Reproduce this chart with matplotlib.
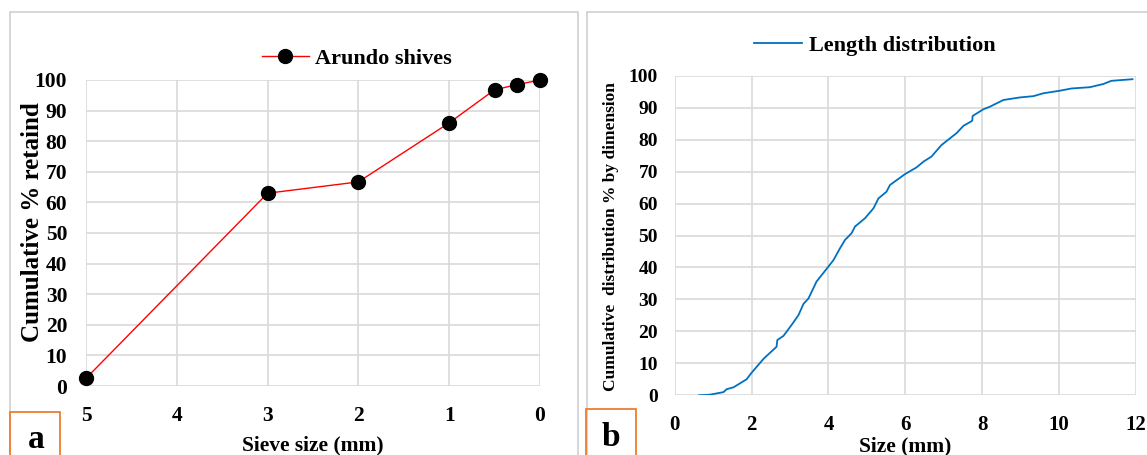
import matplotlib
matplotlib.use("Agg")
import matplotlib.pyplot as plt
from matplotlib.patches import Rectangle

# ---------------- data ----------------
sieve_size = [5, 3, 2, 1, 0.5, 0.25, 0]
cum_retained = [2.5, 63.0, 66.7, 86.0, 96.8, 98.5, 100.0]

length_mm = [0.63, 0.92, 1.27, 1.35, 1.53, 1.87, 1.99, 2.31, 2.65, 2.67, 2.83, 3.04,
             3.22, 3.35, 3.48, 3.69, 4.00, 4.13, 4.30, 4.43, 4.60, 4.69, 4.95, 5.17,
             5.30, 5.51, 5.60, 5.99, 6.29, 6.47, 6.68, 6.94, 7.16, 7.33, 7.51, 7.74,
             7.75, 8.03, 8.20, 8.55, 8.98, 9.33, 9.59, 10.02, 10.32, 10.80, 11.15,
             11.36, 11.91]
length_cum = [0.0, 0.2, 1.0, 1.9, 2.5, 5.0, 6.9, 11.4, 15.2, 17.3, 18.6, 22.0,
              25.1, 28.6, 30.3, 35.6, 40.3, 42.3, 46.0, 48.6, 50.7, 52.8, 55.4, 58.5,
              61.6, 63.7, 65.8, 69.2, 71.3, 73.1, 74.7, 78.3, 80.4, 82.0, 84.3, 85.9,
              87.4, 89.5, 90.3, 92.4, 93.2, 93.6, 94.5, 95.3, 96.0, 96.4, 97.4,
              98.4, 98.9]

left_xticks = [5, 4, 3, 2, 1, 0]
right_xticks = [0, 2, 4, 6, 8, 10, 12]
yticks = list(range(0, 101, 10))

# ---------------- figure ----------------
W, H = 1147, 455
fig = plt.figure(figsize=(W / 100, H / 100), dpi=100)
SERIF = "Liberation Serif"
GRID = "#d9d9d9"


def ax_px(l, r, t, b):
    return fig.add_axes([l / W, (H - b) / H, (r - l) / W, (b - t) / H])


def ftext(x, y, s, **kw):
    return fig.text(x / W, (H - y) / H, s, ha="center", va="center",
                    fontfamily=SERIF, fontweight="bold", **kw)


def style(ax, xfs, yfs, xpad, ypad):
    for s in ax.spines.values():
        s.set_visible(False)
    ax.grid(True, color=GRID, linewidth=1.2)
    ax.set_axisbelow(True)
    ax.tick_params(length=0)
    ax.tick_params(axis="x", pad=xpad)
    ax.tick_params(axis="y", pad=ypad)
    for lab in ax.get_xticklabels():
        lab.set_fontfamily(SERIF); lab.set_fontweight("bold"); lab.set_fontsize(xfs)
    for lab in ax.get_yticklabels():
        lab.set_fontfamily(SERIF); lab.set_fontweight("bold"); lab.set_fontsize(yfs)


# panel borders
fig.patches.append(Rectangle((10 / W, -0.1), 568 / W, (H - 12) / H + 0.1,
                             transform=fig.transFigure, fill=False,
                             edgecolor="#d0d0d0", linewidth=1.2))
fig.patches.append(Rectangle((586.5 / W, -0.1), 600 / W, (H - 12) / H + 0.1,
                             transform=fig.transFigure, fill=False,
                             edgecolor="#d0d0d0", linewidth=1.2))

# ---------------- panel a ----------------
ax1 = ax_px(86, 540, 80, 386)
ax1.plot(sieve_size, cum_retained, color="#ff0000", linewidth=1.0,
         marker="o", markersize=10, markerfacecolor="black",
         markeredgecolor="black", label="Arundo shives", clip_on=False)
ax1.set_xlim(5, 0)
ax1.set_ylim(0, 100)
ax1.set_xticks(left_xticks)
ax1.set_yticks(yticks)
style(ax1, 15.5, 15.5, 14.4, 13.5)
ftext(33, 222, "Cumulative % retaind", fontsize=18, rotation=90)
ftext(313, 445, "Sieve size (mm)", fontsize=15.5)
ax1.legend(loc="center", bbox_to_anchor=((357 - 86) / 454, 1 + (80 - 59) / 306),
           frameon=False, handlelength=2.1, handletextpad=0.3,
           prop={"family": SERIF, "weight": "bold", "size": 16})

# ---------------- panel b ----------------
ax2 = ax_px(674.7, 1136, 75.7, 395.3)
ax2.plot(length_mm, length_cum, color="#0070c0", linewidth=1.3,
         label="Length distribution")
ax2.set_xlim(0, 12)
ax2.set_ylim(0, 100)
ax2.set_xticks(right_xticks)
ax2.set_yticks(yticks)
style(ax2, 15, 14, 14, 12)
ftext(611, 237, "Cumulative  distribution % by dimension", fontsize=12.5, rotation=90)
ftext(905, 446, "Size (mm)", fontsize=15.5)
ax2.legend(loc="center", bbox_to_anchor=((875 - 674.7) / 461.3, 1 + (75.7 - 46) / 319.6),
           frameon=False, handlelength=2.15, handletextpad=0.3,
           prop={"family": SERIF, "weight": "bold", "size": 16})

# ---------------- panel letters ----------------
for (l, r, t, cx, cy, letter) in [(10, 60, 411.5, 36, 440, "a"),
                                   (586, 636, 409, 611, 437, "b")]:
    fig.patches.append(Rectangle((l / W, -0.1), (r - l) / W, (H - t) / H + 0.1,
                                 transform=fig.transFigure, fill=False,
                                 edgecolor="#ed7d31", linewidth=1.3))
    ftext(cx, cy, letter, fontsize=24)

fig.savefig("out.png", dpi=100)
